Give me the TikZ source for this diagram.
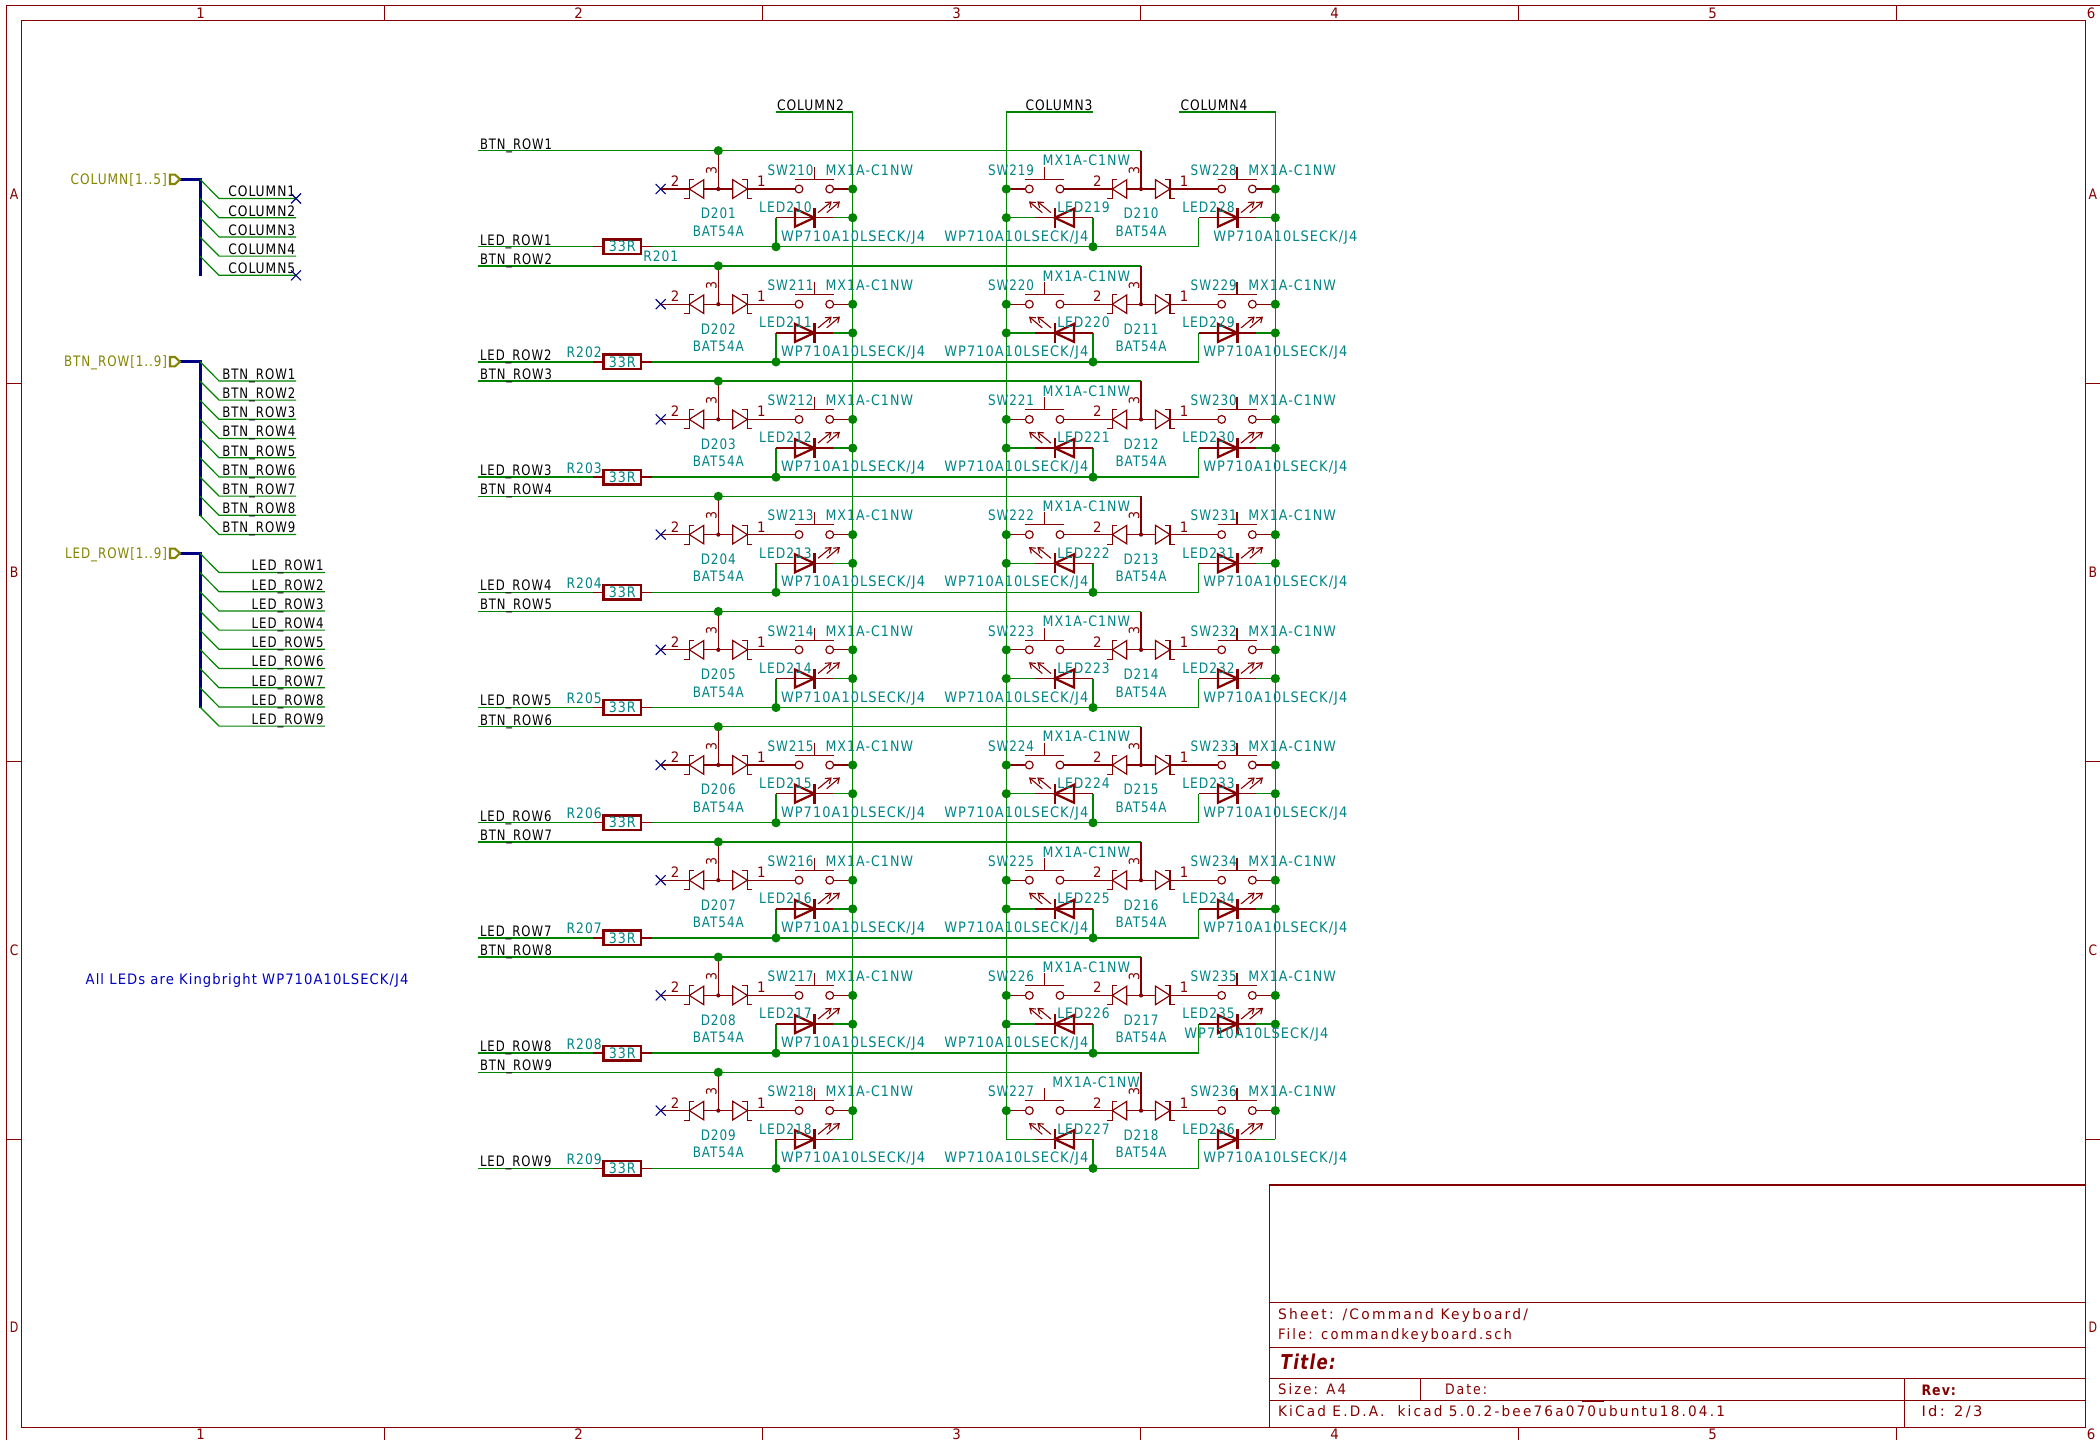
\documentclass[tikz,border=0pt]{standalone}
\usepackage{fontspec}
\setmainfont{DejaVu Sans}[LetterSpace=8]
\newfontfamily\tbfont{DejaVu Sans}[LetterSpace=16]
\usetikzlibrary{arrows.meta}
\definecolor{kred}{RGB}{132,0,0}
\definecolor{kgreen}{RGB}{0,132,0}
\definecolor{kteal}{RGB}{0,132,132}
\definecolor{kblue}{RGB}{0,0,132}
\definecolor{knote}{RGB}{0,0,194}
\definecolor{kolive}{RGB}{132,132,0}
\newcommand\Tx[6][]{\node[txt,#1] (#2) at (#3,#4) {\resizebox{#5pt}{\height}{#6}};}
\tikzset{
  txt/.style={inner sep=0pt,outer sep=0pt,anchor=base west,font=\fontsize{14.4pt}{15pt}\selectfont,text=black},
  tbtxt/.style={txt,text=kred,font=\tbfont\fontsize{14.4pt}{15pt}\selectfont},
  teal/.style={text=kteal},
  redt/.style={text=kred},
  cen/.style={anchor=base},
  gw/.style={draw=kgreen,line width=1.3pt},
  rw/.style={draw=kred,line width=1.3pt},
  sym/.style={draw=kred,line width=1.15pt},
  frame/.style={draw=kred,line width=1.2pt},
  bus/.style={draw=kblue,line width=3pt},
  junc/.style={circle,fill=kgreen,inner sep=0pt,minimum size=9.2pt},
  dotr/.style={circle,fill=kred,inner sep=0pt,minimum size=4.2pt},
  resbox/.style={draw=kred,line width=2.4pt,minimum width=37.5pt,minimum height=14.5pt,inner sep=0pt,text=kteal,font=\fontsize{14.4pt}{15pt}\selectfont},
  schott/.pic={
    \draw[sym,line join=miter] (-14.5,-9.3)--(0,0)--(-14.5,9.3)--cycle;
    \draw[sym] (-5,-9.5)--(0,-9.5)--(0,9.5)--(5,9.5);},
  ledsym/.pic={
    \draw[kred,line width=2.2pt,line join=miter] (-19.3,-9)--(0,0)--(-19.3,9)--cycle;
    \draw[kred,line width=2.4pt] (0,-10)--(0,10);
    \draw[kred,line width=1.1pt,-{Straight Barb[length=5pt,width=7pt]}] (3.7,-5)--(17.4,-16.3);
    \draw[kred,line width=1.1pt,-{Straight Barb[length=5pt,width=7pt]}] (12.4,-5)--(25.7,-16.3);},
  swsym/.pic={
    \draw[sym] (-15.35,0) circle[radius=3.9];
    \draw[sym] (15.35,0) circle[radius=3.9];
    \draw[sym] (-19.5,-9.7)--(19.5,-9.7);
    \draw[sym] (0,-22.3)--(0,-9.7);},
  ncx/.pic={
    \draw[kblue,line width=1.1pt] (-5,-5)--(5,5);
    \draw[kblue,line width=1.1pt] (-5,5)--(5,-5);},
  flagsym/.pic={
    \draw[kolive,line width=2.1pt,line join=miter] (0,-4.7)--(5,-4.7)--(10,0)--(5,4.7)--(0,4.7)--cycle;},
}
\begin{document}
\begin{tikzpicture}[x=1pt,y=-1pt]
\useasboundingbox (0,0) rectangle (2100,1440);
\fill[white] (0,0) rectangle (2100,1440);
% ---------- sheet frame ----------
\draw[frame] (6.7,1440)--(6.7,5.7)--(2100,5.7);
\draw[frame] (21.7,20.3) rectangle (2085.7,1427.3);
\foreach \fx in {384.7,762.7,1140.7,1518.7,1896.7}{
  \draw[frame] (\fx,5.7)--(\fx,20.3);
  \draw[frame] (\fx,1427.3)--(\fx,1440);}
\foreach \fy in {383.7,761.7,1139.7}{
  \draw[frame] (6.7,\fy)--(21.7,\fy);
  \draw[frame] (2085.7,\fy)--(2100,\fy);}
\foreach \fn/\fx in {1/200.5,2/578.5,3/956.5,4/1334.5,5/1712.5,6/2091}{
  \Tx[redt,cen]{top\fn}{\fx}{18.6}{8.5}{\fn}
  \Tx[redt,cen]{bot\fn}{\fx}{1439.5}{8.5}{\fn}}
\foreach \fl/\fy in {A/194,B/572,C/950,D/1327.5}{
  \Tx[redt,cen]{lft\fl}{14}{\fy+5.2}{8.5}{\fl}
  \Tx[redt,cen]{rgt\fl}{2092.8}{\fy+5.2}{8.5}{\fl}}
% ---------- title block ----------
\draw[frame] (1269.7,1427.3)--(1269.7,1185)--(2085.7,1185);
\draw[frame] (1269.7,1302.3)--(2085.7,1302.3);
\draw[frame] (1269.7,1347.7)--(2085.7,1347.7);
\draw[frame] (1269.7,1378.3)--(2085.7,1378.3);
\draw[frame] (1269.7,1400.7)--(2085.7,1400.7);
\draw[frame] (1420.7,1378.3)--(1420.7,1400.7);
\draw[frame] (1904.7,1378.3)--(1904.7,1427.3);
\draw[kred,line width=2.2pt] (1582,1400.7)--(1604,1400.7);
\Tx[tbtxt]{tbSheet}{1278}{1319}{250}{Sheet: /Command Keyboard/}
\Tx[tbtxt]{tbFile}{1278}{1339}{234}{File: commandkeyboard.sch}
\node[txt,redt,font=\fontsize{20.5pt}{22pt}\bfseries\itshape\selectfont] (tbTitle) at (1280.7,1369) {\resizebox{55pt}{\height}{Title:}};
\Tx[tbtxt]{tbSize}{1278}{1394.5}{68}{Size: A4}
\Tx[tbtxt]{tbDate}{1445}{1394.5}{42}{Date:}
\Tx[tbtxt]{tbKicad}{1278}{1416}{447}{KiCad E.D.A.\ \ kicad 5.0.2-bee76a070ubuntu18.04.1}
\node[txt,redt,font=\fontsize{14.4pt}{16pt}\bfseries\selectfont] (tbRev) at (1921.5,1395.2) {\resizebox{34.5pt}{\height}{Rev:}};
\Tx[tbtxt]{tbId}{1921.5}{1416.2}{61}{Id: 2/3}
% ---------- bus panels ----------
\foreach \bn/\by/\bend/\bcount/\blbl/\blx/\blw/\bw/\btx/\btw in {
   cl/179.3/276/5/COLUMN/70.5/96.5/296/228.3/67,
   br/361.7/515.7/9/BTN\_ROW/64/103/296/222.3/73,
   lr/553.3/708.3/9/LED\_ROW/65/102/325/251.7/72}{
  \coordinate (\bn flag) at (170,\by);
  \coordinate (\bn tip) at (180,\by);
  \coordinate (\bn top) at (200,\by);
  \coordinate (\bn end) at (200,\bend);
  \draw[bus] (\bn tip)--(\bn top)--(\bn end);
  \pic at (\bn flag) {flagsym};
  \foreach \k in {1,...,\bcount}{
    \coordinate (\bn a\k) at (200,\by+19.2*\k-19.2);
    \coordinate (\bn b\k) at (219,\by+19.2*\k);
    \coordinate (\bn c\k) at (\bw,\by+19.2*\k);
    \draw[gw,line width=1.2pt] (\bn a\k)--(\bn b\k)--(\bn c\k);
    \Tx{\bn t\k}{\btx}{\by+19.2*\k-1.7}{\btw}{\blbl\k}
  }
}
\Tx[text=kolive]{clFlagT}{70.5}{184.5}{96.5}{COLUMN[1..5]}
\Tx[text=kolive]{brFlagT}{64}{366.9}{103}{BTN\_ROW[1..9]}
\Tx[text=kolive]{lrFlagT}{65}{558.5}{102}{LED\_ROW[1..9]}
\pic at (clc1) {ncx};
\pic at (clc5) {ncx};
\Tx[text=knote]{note}{85.7}{984.2}{322.7}{All LEDs are Kingbright WP710A10LSECK/J4}
% ---------- column wires ----------
\coordinate (c2a) at (776,112);     \coordinate (c2b) at (852.7,112);   \coordinate (c2c) at (852.7,1139.3);
\coordinate (c3a) at (1093.3,112);  \coordinate (c3b) at (1006.3,112);  \coordinate (c3c) at (1006.3,1139.3);
\coordinate (c4a) at (1179,112);    \coordinate (c4b) at (1275.3,112);  \coordinate (c4c) at (1275.3,1139.3);
\draw[gw] (c2a)--(c2b)--(c2c);
\draw[gw] (c3a)--(c3b)--(c3c);
\draw[gw] (c4a)--(c4b)--(c4c);
\Tx{c2t}{777}{110.7}{67}{COLUMN2}
\Tx{c3t}{1025.5}{110.7}{67}{COLUMN3}
\Tx{c4t}{1180.5}{110.7}{67}{COLUMN4}
% ---------- key matrix rows ----------
\foreach \r in {0,...,8}{
  \pgfmathtruncatemacro\rowA{\r+1}
  \pgfmathtruncatemacro\nD{201+\r}
  \pgfmathtruncatemacro\nDb{210+\r}
  \pgfmathtruncatemacro\nA{210+\r}
  \pgfmathtruncatemacro\nB{219+\r}
  \pgfmathtruncatemacro\nC{228+\r}
  \begin{scope}[shift={(0,\r*115.2)}]
    \coordinate (btnL\r) at (478,150.7);
    \coordinate (btnJ\r) at (718.3,150.7);
    \coordinate (btnR\r) at (1141,150.7);
    \coordinate (midA\r) at (718.3,189);
    \coordinate (midB\r) at (1141,189);
    \coordinate (nc\r) at (660.7,189);
    \coordinate (ledL\r) at (478,246.7);
    \coordinate (rL\r) at (593.3,246.7);
    \coordinate (rR\r) at (651.7,246.7);
    \coordinate (ledJa\r) at (776,246.7);
    \coordinate (ledJb\r) at (1093,246.7);
    \coordinate (ledE\r) at (1198.7,246.7);
    \coordinate (ledAw\r) at (776,217.7);
    \coordinate (ledAr\r) at (833,217.7);
    \coordinate (ledAc\r) at (852.7,217.7);
    \coordinate (ledBc\r) at (1006.3,217.7);
    \coordinate (ledBl\r) at (1035,217.7);
    \coordinate (ledBw\r) at (1093,217.7);
    \coordinate (ledCw\r) at (1198.7,217.7);
    \coordinate (ledCr\r) at (1256,217.7);
    \coordinate (ledCc\r) at (1275.3,217.7);
    \coordinate (swAc\r) at (852.7,189);
    \coordinate (swBc\r) at (1006.3,189);
    \coordinate (swCc\r) at (1275.3,189);
    % wires
    \draw[gw] (btnL\r)--(btnR\r);
    \draw[gw] (ledL\r)--(rL\r);
    \draw[gw] (rR\r)--(ledE\r)--(ledCw\r);
    \draw[gw] (ledJa\r)--(ledAw\r);
    \draw[gw] (ledAr\r)--(ledAc\r);
    \draw[gw] (ledBc\r)--(ledBl\r);
    \draw[gw] (ledBw\r)--(ledJb\r);
    \draw[gw] (ledCr\r)--(ledCc\r);
    \draw[rw] (btnJ\r)--(midA\r);
    \draw[rw] (btnR\r)--(midB\r);
    \draw[rw] (nc\r)--(689.3,189);
    \draw[rw] (703.8,189)--(732.8,189);
    \draw[rw] (747.3,189)--(795,189);
    \draw[rw] (833.7,189)--(swAc\r);
    \draw[rw] (swBc\r)--(1025.3,189);
    \draw[rw] (1064,189)--(1112.3,189);
    \draw[rw] (1126.8,189)--(1155.5,189);
    \draw[rw] (1170,189)--(1217.7,189);
    \draw[rw] (1256.3,189)--(swCc\r);
    \draw[rw] (ledAw\r)--(ledAr\r);
    \draw[rw] (ledBl\r)--(ledBw\r);
    \draw[rw] (ledCw\r)--(ledCr\r);
    % resistor
    \node[resbox] (R\r) at (622.3,246.7) {\resizebox{27pt}{\height}{33R}};
    \draw[rw] (rL\r)--(R\r.west);
    \draw[rw] (R\r.east)--(rR\r);
    % symbols
    \pic[xscale=-1] at (689.3,189) {schott};
    \pic at (747.3,189) {schott};
    \pic[xscale=-1] at (1112.3,189) {schott};
    \pic at (1170,189) {schott};
    \pic at (814.35,189) {swsym};
    \pic at (1044.65,189) {swsym};
    \pic at (1237,189) {swsym};
    \pic at (814.3,217.7) {ledsym};
    \pic[xscale=-1] at (1054.7,217.7) {ledsym};
    \pic at (1237.3,217.7) {ledsym};
    \pic at (nc\r) {ncx};
    % junctions
    \node[dotr] (da\r) at (midA\r) {};
    \node[dotr] (db\r) at (midB\r) {};
    \node[junc] (jb\r) at (btnJ\r) {};
    \node[junc] (jla\r) at (ledJa\r) {};
    \node[junc] (jlb\r) at (ledJb\r) {};
    \node[junc] (jsa\r) at (swAc\r) {};
    \node[junc] (jsb\r) at (swBc\r) {};
    \node[junc] (jsc\r) at (swCc\r) {};
    \ifnum\r<8
      \node[junc] (jaa\r) at (ledAc\r) {};
      \node[junc] (jab\r) at (ledBc\r) {};
      \node[junc] (jac\r) at (ledCc\r) {};
    \fi
    % row labels
    \Tx{lb\r}{480}{149}{72}{BTN\_ROW\rowA}
    \Tx{ll\r}{480}{245}{71.5}{LED\_ROW\rowA}
    % diode A text
    \Tx[redt,cen]{pa2\r}{675}{186.5}{8.5}{2}
    \Tx[redt,cen]{pa1\r}{761.3}{186.5}{8.5}{1}
    \node[txt,anchor=center,redt,rotate=90] (pa3\r) at (711.3,170) {\resizebox{8pt}{\height}{3}};
    \Tx[teal,cen]{dA\r}{718.3}{218.9}{35}{D\nD}
    \Tx[teal,cen]{vA\r}{718.3}{236.2}{51}{BAT54A}
    % diode B text
    \Tx[redt,cen]{pb2\r}{1097.3}{186.5}{8.5}{2}
    \Tx[redt,cen]{pb1\r}{1184}{186.5}{8.5}{1}
    \node[txt,anchor=center,redt,rotate=90] (pb3\r) at (1134,170) {\resizebox{8pt}{\height}{3}};
    \Tx[teal,cen]{dB\r}{1141}{218.9}{35}{D\nDb}
    \Tx[teal,cen]{vB\r}{1141}{236.2}{51}{BAT54A}
    % resistor ref
    \ifnum\r=0
      \Tx[teal]{rr\r}{643.3}{261.9}{35}{R\nD}
    \else
      \Tx[teal]{rr\r}{566.7}{242.7}{35}{R\nD}
    \fi
    % column A
    \Tx[teal]{swA\r}{767.5}{175.2}{46}{SW\nA}
    \Tx[teal]{mxA\r}{825.5}{175.2}{87.5}{MX1A-C1NW}
    \Tx[teal]{ldA\r}{759.2}{212.5}{52.5}{LED\nA}
    \Tx[teal]{wpA\r}{781}{241.2}{144}{WP710A10LSECK/J4}
    % column B
    \Tx[teal]{swB\r}{988}{175.2}{46}{SW\nB}
    \ifnum\r=8
      \Tx[teal]{mxB\r}{1052.3}{165.9}{87.5}{MX1A-C1NW}
    \else
      \Tx[teal]{mxB\r}{1042.7}{165.9}{87.5}{MX1A-C1NW}
    \fi
    \Tx[teal]{ldB\r}{1057.3}{212.5}{52.5}{LED\nB}
    \Tx[teal]{wpB\r}{944.3}{241.2}{144}{WP710A10LSECK/J4}
    % column C
    \Tx[teal]{swC\r}{1190.7}{175.2}{46}{SW\nC}
    \Tx[teal]{mxC\r}{1248.3}{175.2}{87.5}{MX1A-C1NW}
    \Tx[teal]{ldC\r}{1182.3}{212.5}{52.5}{LED\nC}
    \ifnum\r=0
      \Tx[teal]{wpC\r}{1213.3}{241.2}{144}{WP710A10LSECK/J4}
    \else\ifnum\r=7
      \Tx[teal]{wpC\r}{1184.3}{232}{144}{WP710A10LSECK/J4}
    \else
      \Tx[teal]{wpC\r}{1203.3}{241.2}{144}{WP710A10LSECK/J4}
    \fi\fi
  \end{scope}
}
\end{tikzpicture}
\end{document}
